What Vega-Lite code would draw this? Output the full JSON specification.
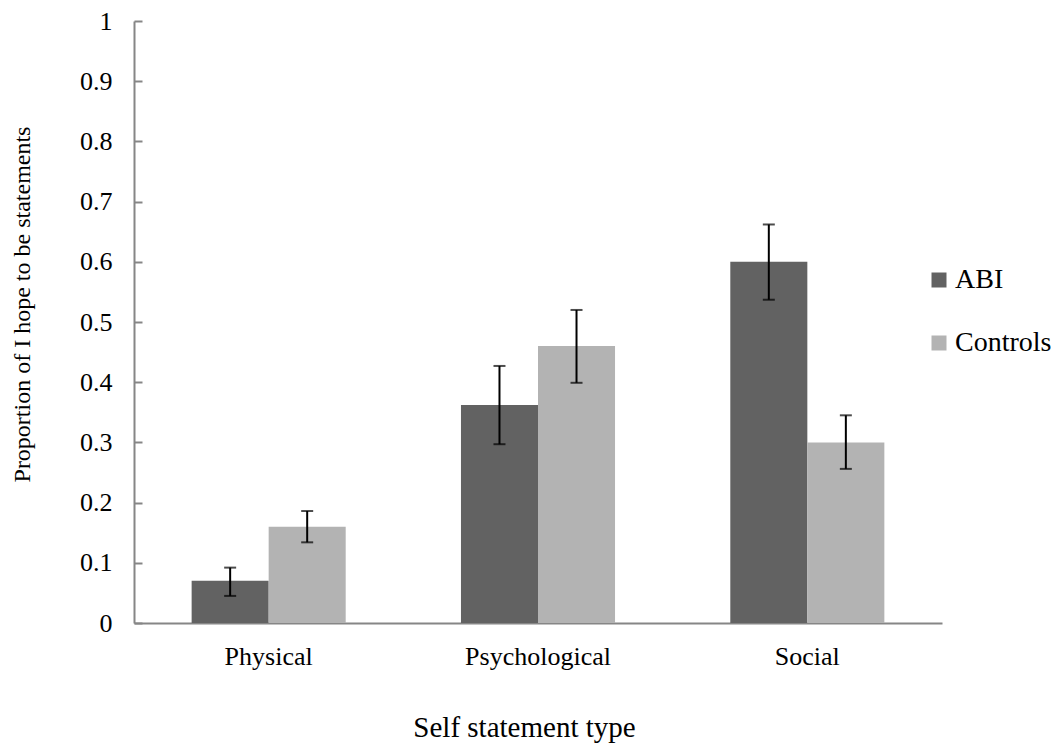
{
  "$schema": "https://vega.github.io/schema/vega-lite/v6.json",
  "width": 808,
  "height": 602,
  "autosize": "none",
  "padding": {"left": 134, "top": 21, "right": 120, "bottom": 121},
  "background": "white",
  "config": {
    "font": "Liberation Serif",
    "view": {"stroke": null},
    "axis": {
      "labelFont": "Liberation Serif",
      "titleFont": "Liberation Serif",
      "labelColor": "#000000",
      "titleColor": "#000000",
      "titleFontWeight": "normal",
      "domainColor": "#868686",
      "domainWidth": 2
    },
    "axisX": {
      "labelFontSize": 26,
      "labelPadding": 20,
      "ticks": false,
      "titleFontSize": 29,
      "titlePadding": 44,
      "titleX": 390,
      "titleAlign": "center"
    },
    "axisY": {
      "labelFontSize": 26,
      "labelPadding": 30,
      "tickSize": -8,
      "tickColor": "#868686",
      "tickWidth": 2,
      "grid": false,
      "titleFontSize": 24,
      "titleX": -112,
      "titleY": 283,
      "titleAngle": -90,
      "titleAlign": "center",
      "titleBaseline": "middle"
    },
    "legend": {
      "labelFont": "Liberation Serif",
      "labelFontSize": 28,
      "labelColor": "#000000"
    }
  },
  "data": {
    "values": [
      {"type": "Physical", "group": "ABI", "value": 0.07, "lo": 0.045, "hi": 0.092},
      {"type": "Physical", "group": "Controls", "value": 0.16, "lo": 0.134, "hi": 0.186},
      {"type": "Psychological", "group": "ABI", "value": 0.362, "lo": 0.297, "hi": 0.427},
      {"type": "Psychological", "group": "Controls", "value": 0.46, "lo": 0.399, "hi": 0.52},
      {"type": "Social", "group": "ABI", "value": 0.6, "lo": 0.537, "hi": 0.662},
      {"type": "Social", "group": "Controls", "value": 0.3, "lo": 0.256, "hi": 0.345}
    ]
  },
  "encoding": {
    "x": {
      "field": "type",
      "type": "nominal",
      "sort": ["Physical", "Psychological", "Social"],
      "scale": {"paddingInner": 0.428, "paddingOuter": 0.214},
      "axis": {"title": "Self statement type", "labelAngle": 0}
    },
    "xOffset": {"field": "group", "type": "nominal", "sort": ["ABI", "Controls"]}
  },
  "layer": [
    {
      "mark": {"type": "bar"},
      "encoding": {
        "y": {
          "field": "value",
          "type": "quantitative",
          "scale": {"domain": [0, 1]},
          "axis": {
            "title": "Proportion of I hope to be statements",
            "values": [0, 0.1, 0.2, 0.3, 0.4, 0.5, 0.6, 0.7, 0.8, 0.9, 1],
            "format": "~g"
          }
        },
        "color": {
          "field": "group",
          "type": "nominal",
          "scale": {"domain": ["ABI", "Controls"], "range": ["#626262", "#b3b3b3"]},
          "legend": {
            "title": null,
            "orient": "none",
            "legendX": 791,
            "legendY": 245,
            "symbolType": "square",
            "symbolSize": 225,
            "symbolStrokeWidth": 0,
            "rowPadding": 35,
            "labelOffset": 2
          }
        }
      }
    },
    {
      "mark": {"type": "rule", "color": "#000000", "strokeWidth": 2},
      "encoding": {
        "y": {"field": "lo", "type": "quantitative", "title": "Proportion of I hope to be statements"},
        "y2": {"field": "hi"}
      }
    },
    {
      "mark": {"type": "tick", "color": "#000000", "orient": "horizontal", "size": 12, "thickness": 2},
      "encoding": {"y": {"field": "lo", "type": "quantitative", "title": "Proportion of I hope to be statements"}}
    },
    {
      "mark": {"type": "tick", "color": "#000000", "orient": "horizontal", "size": 12, "thickness": 2},
      "encoding": {"y": {"field": "hi", "type": "quantitative", "title": "Proportion of I hope to be statements"}}
    }
  ]
}
